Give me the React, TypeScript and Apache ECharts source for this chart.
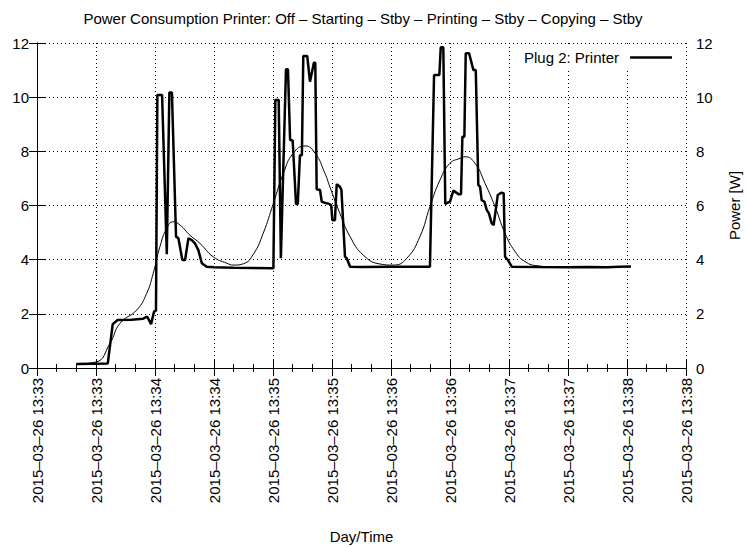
import React, { useEffect, useRef } from "react";
import * as echarts from "echarts";

// seconds since 13:33:00
const powerTimes = [
  20, 36, 38.5, 41, 48, 54, 56, 58, 59.5, 60.5, 61.2, 63.6, 66, 67.3, 68.6, 70.7, 71.9, 73.9, 75.3, 77,
  78.7, 80.3, 82, 83.8, 86.3, 90, 100, 110, 120.2, 121.2, 122.9, 124, 126.6, 127.6, 128.7, 130, 131.7,
  132.6, 133.7, 134.7, 135.4, 137.4, 138.8, 140.8, 141.5, 142.2, 143.9, 144.8, 147.3, 148.6, 149.6,
  150.2, 151.5, 152.4, 154, 154.8, 156.6, 157.5, 159.2, 165, 180, 199.8, 201.9, 204.6, 205.3, 206.6,
  207.6, 210, 211.7, 214.3, 215.6, 216.3, 217.3, 218, 219.7, 221.9, 223.1, 224.4, 225.3, 226.1, 227.5,
  228.7, 229.8, 231.2, 232.2, 234.3, 236, 237.3, 238, 239.4, 241.4, 255, 270, 280, 290, 296, 302,
];
const powerValues = [
  0.15, 0.17, 1.62, 1.77, 1.78, 1.82, 1.9, 1.62, 2.08, 2.12, 10.08, 10.08, 4.2, 10.17, 10.17, 4.85, 4.79,
  3.99, 3.99, 4.79, 4.72, 4.6, 4.36, 3.87, 3.74, 3.72, 3.7, 3.69, 3.68, 9.9, 9.9, 4.05, 11.03, 11.03,
  8.42, 8.4, 6.06, 6.06, 7.86, 7.86, 11.52, 11.52, 10.57, 11.27, 11.27, 6.6, 6.57, 6.14, 6.08, 6.06, 6.0,
  5.46, 5.46, 6.79, 6.69, 6.57, 4.11, 4.05, 3.74, 3.73, 3.74, 3.74, 10.82, 10.82, 11.84, 11.84, 6.06,
  6.14, 6.55, 6.42, 6.42, 8.54, 8.54, 11.62, 11.62, 11.0, 11.0, 6.76, 6.69, 6.2, 6.14, 5.83, 5.71, 5.34,
  5.28, 6.39, 6.47, 6.45, 4.11, 3.99, 3.74, 3.73, 3.72, 3.73, 3.72, 3.74, 3.75,
];

const smoothTimes = [
  20, 30, 37.1, 42.2, 50.7, 55.8, 59.1, 62.5, 66, 69.3, 72.7, 77.8, 82.9, 89.7, 96.5, 100, 105, 110, 115,
  120.2, 125.3, 130.3, 136.3, 141.4, 146.4, 148.9, 154, 159.2, 165.9, 174.4, 181.2, 188, 194.7, 199.8,
  204.9, 210, 215.1, 217.6, 222.7, 227.8, 232.9, 238, 243.1, 248.1, 254.9, 265, 302,
];
const smoothValues = [
  0.15, 0.22, 0.91, 1.65, 2.14, 2.76, 3.5, 4.48, 5.16, 5.4, 5.28, 4.9, 4.6, 4.1, 3.87, 3.8, 3.85, 4.2,
  4.97, 6.08, 7.19, 7.93, 8.2, 7.93, 7.19, 6.69, 5.71, 4.85, 4.17, 3.84, 3.8, 4.05, 4.85, 5.96, 6.94,
  7.56, 7.74, 7.8, 7.56, 6.82, 5.96, 4.97, 4.3, 3.93, 3.77, 3.73, 3.74,
];

const xTickLabels = [
  "2015–03–26 13:33", "2015–03–26 13:33", "2015–03–26 13:34", "2015–03–26 13:34",
  "2015–03–26 13:35", "2015–03–26 13:35", "2015–03–26 13:36", "2015–03–26 13:36",
  "2015–03–26 13:37", "2015–03–26 13:37", "2015–03–26 13:38", "2015–03–26 13:38",
];

const FONT = "Liberation Sans, Arial, sans-serif";
const TITLE = "Power Consumption Printer: Off – Starting – Stby – Printing – Stby – Copying – Stby";

export default function App() {
  const ref = useRef<HTMLDivElement>(null);
  useEffect(() => {
    if (!ref.current) return;
    const chart = echarts.init(ref.current, null, { renderer: "svg" });
    const thick = powerTimes.map((t, i) => [t, powerValues[i]]);
    const thin = smoothTimes.map((t, i) => [t, smoothValues[i]]);
    const tickCommon = {
      axisLine: { show: true, lineStyle: { color: "#000", width: 1 } },
      axisTick: { show: true, inside: true, length: 8, lineStyle: { color: "#000" } },
    };
    chart.setOption({
      animation: false,
      backgroundColor: "#fff",
      textStyle: { fontFamily: FONT },
      graphic: [
        {
          type: "text",
          x: 363,
          y: 18,
          style: {
            text: TITLE,
            textAlign: "center",
            textVerticalAlign: "middle",
            font: `15px ${FONT}`,
            fill: "#000",
          },
        },
      ],
      grid: { left: 37, right: 62, top: 43, bottom: 179, containLabel: false, outerBoundsMode: "none" },
      legend: {
        right: 72,
        top: 46,
        align: "right",
        icon: "rect",
        itemWidth: 42,
        itemHeight: 2.5,
        padding: [4, 4, 4, 4],
        backgroundColor: "#fff",
        data: [{ name: "Plug 2: Printer" }],
        itemStyle: { color: "#000" },
        textStyle: { fontSize: 15, fontFamily: FONT, color: "#000", padding: [0, 6, 0, 0] },
      },
      xAxis: [
        {
          type: "value",
          min: 0,
          max: 330,
          interval: 30,
          position: "bottom",
          ...tickCommon,
          minorTick: { show: true, splitNumber: 3, length: 4, lineStyle: { color: "#000" } },
          axisLabel: {
            rotate: 90,
            margin: 10,
            fontSize: 15,
            fontFamily: FONT,
            color: "#000",
            formatter: (v: number) => xTickLabels[Math.round(v / 30)] ?? "",
          },
          splitLine: { show: true, lineStyle: { color: "#000", type: [1, 3], width: 1 } },
          name: "Day/Time",
          nameLocation: "middle",
          nameGap: 161,
          nameTextStyle: { fontSize: 15, fontFamily: FONT, color: "#000" },
        },
        {
          type: "value",
          min: 0,
          max: 330,
          interval: 30,
          position: "top",
          ...tickCommon,
          minorTick: { show: true, splitNumber: 3, length: 4, lineStyle: { color: "#000" } },
          axisLabel: { show: false },
          splitLine: { show: false },
        },
      ],
      yAxis: [
        {
          type: "value",
          min: 0,
          max: 12,
          interval: 2,
          position: "left",
          ...tickCommon,
          axisLabel: { margin: 8, fontSize: 15, fontFamily: FONT, color: "#000" },
          splitLine: { show: true, lineStyle: { color: "#000", type: [1, 3], width: 1 } },
        },
        {
          type: "value",
          min: 0,
          max: 12,
          interval: 2,
          position: "right",
          ...tickCommon,
          axisLabel: { margin: 10, fontSize: 15, fontFamily: FONT, color: "#000" },
          splitLine: { show: false },
          name: "Power [W]",
          nameLocation: "middle",
          nameRotate: 90,
          nameGap: 41,
          nameTextStyle: { fontSize: 15, fontFamily: FONT, color: "#000" },
        },
      ],
      series: [
        {
          name: "Smooth",
          type: "line",
          data: thin,
          smooth: 0.5,
          symbol: "none",
          lineStyle: { color: "#000", width: 1 },
          z: 2,
        },
        {
          name: "Plug 2: Printer",
          type: "line",
          data: thick,
          symbol: "none",
          itemStyle: { color: "#000" },
          lineStyle: { color: "#000", width: 2.5 },
          z: 3,
        },
      ],
    });
    return () => chart.dispose();
  }, []);
  return (
    <div
      ref={ref}
      style={{ position: "fixed", left: 0, top: 0, width: 748, height: 547, background: "#fff" }}
    />
  );
}
